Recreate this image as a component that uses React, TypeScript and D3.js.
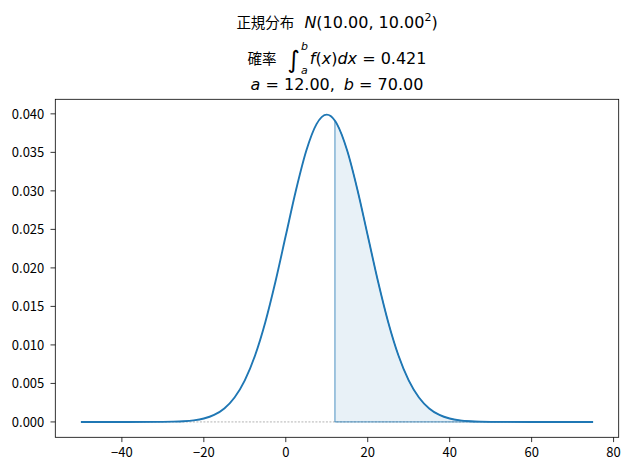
import * as d3 from 'd3';
import React from 'react';

// Normal distribution N(10, 10^2)
const CURVE_X = [-50, -40, -30, -27.5, -25, -22.5, -20, -17.5, -15, -12.5, -10, -7.5, -5, -2.5, 0, 2.5, 5, 7.5, 10, 12, 12.5, 15, 17.5, 20, 22.5, 25, 27.5, 30, 32.5, 35, 37.5, 40, 42.5, 45, 47.5, 50, 60, 70, 75];
const CURVE_Y = [0, 0.0000001, 0.0000134, 0.0000353, 0.0000873, 0.000203, 0.000443, 0.000909, 0.001753, 0.003174, 0.005399, 0.008628, 0.012952, 0.018265, 0.024197, 0.030114, 0.035207, 0.038667, 0.039894, 0.039104, 0.038667, 0.035207, 0.030114, 0.024197, 0.018265, 0.012952, 0.008628, 0.005399, 0.003174, 0.001753, 0.000909, 0.000443, 0.000203, 0.0000873, 0.0000353, 0.0000134, 0.0000001, 0, 0];

const RANGE_A = 12;
const RANGE_B = 70;

const X_TICKS = [-40, -20, 0, 20, 40, 60, 80];
const Y_TICKS = [0, 0.005, 0.01, 0.015, 0.02, 0.025, 0.03, 0.035, 0.04];

const W = 629;
const H = 470;
const BLUE = "#1f77b4";
const JP = "'Noto Sans CJK JP', sans-serif";
const MATH = "'DejaVu Sans', sans-serif";

type Pt = { x: number; y: number };

const App: React.FC = () => {
  const plot = { left: 55.3, right: 618.7, top: 99.3, bottom: 437.3 };

  const xScale = d3.scaleLinear().domain([-56.25, 81.25]).range([plot.left, plot.right]);
  const yScale = d3.scaleLinear().domain([-0.001995, 0.041889]).range([plot.bottom, plot.top]);

  const pts: Pt[] = CURVE_X.map((x, i) => ({ x, y: CURVE_Y[i] }));
  const shaded = pts.filter(p => p.x >= RANGE_A && p.x <= RANGE_B);

  const line = d3.line<Pt>()
    .x(p => xScale(p.x))
    .y(p => yScale(p.y))
    .curve(d3.curveMonotoneX);

  const area = d3.area<Pt>()
    .x(p => xScale(p.x))
    .y0(yScale(0))
    .y1(p => yScale(p.y))
    .curve(d3.curveMonotoneX);

  const cx = (plot.left + plot.right) / 2;

  return (
    <div style={{ position: "fixed", left: 0, top: 0 }}>
      <svg width={W} height={H} style={{ display: "block", background: "#fff" }}>
        {/* title */}
        <g fill="#000" fontFamily={MATH} fontSize={16}>
          <text x={cx} y={28} textAnchor="middle">
            <tspan fontFamily={JP} fontSize={14.5}>正規分布</tspan>
            <tspan fontStyle="italic" dx={10}>N</tspan>
            <tspan>(10.00, 10.00</tspan>
            <tspan fontSize={11} dy={-7}>2</tspan>
            <tspan dy={7}>)</tspan>
          </text>
          <text x={cx} y={63.5} textAnchor="middle">
            <tspan fontFamily={JP} fontSize={14.5}>確率</tspan>
            <tspan fontSize={24} dy={4} dx={11}>∫</tspan>
            <tspan fontSize={11} fontStyle="italic" dy={-18} dx={1}>b</tspan>
            <tspan fontSize={11} fontStyle="italic" dy={24} dx={-7}>a</tspan>
            <tspan fontStyle="italic" dy={-10} dx={2}>f</tspan>
            <tspan>(</tspan>
            <tspan fontStyle="italic">x</tspan>
            <tspan>)</tspan>
            <tspan fontStyle="italic">dx</tspan>
            <tspan> = 0.421</tspan>
          </text>
          <text x={cx} y={90} textAnchor="middle">
            <tspan fontStyle="italic">a</tspan>
            <tspan> = 12.00,</tspan>
            <tspan fontStyle="italic" dx={9}>b</tspan>
            <tspan> = 70.00</tspan>
          </text>
        </g>

        {/* zero guide */}
        <line
          x1={xScale(CURVE_X[0])}
          x2={xScale(CURVE_X[CURVE_X.length - 1])}
          y1={yScale(0)}
          y2={yScale(0)}
          stroke="#808080"
          strokeWidth={0.6}
          strokeDasharray="2,1.5"
        />

        {/* shaded probability */}
        <path
          d={area(shaded) ?? ""}
          fill={BLUE}
          fillOpacity={0.1}
          stroke={BLUE}
          strokeWidth={0.8}
        />

        {/* density curve */}
        <path d={line(pts) ?? ""} fill="none" stroke={BLUE} strokeWidth={1.9} />

        {/* frame */}
        <rect
          x={plot.left}
          y={plot.top}
          width={plot.right - plot.left}
          height={plot.bottom - plot.top}
          fill="none"
          stroke="#000"
          strokeWidth={0.8}
        />

        {/* x axis */}
        <g fontFamily={JP} fontSize={13} fill="#000">
          {X_TICKS.map(t => (
            <g key={t} transform={`translate(${xScale(t)},${plot.bottom})`}>
              <line y2={4.8} stroke="#000" strokeWidth={0.8} />
              <text y={20} textAnchor="middle">{t < 0 ? `\u2212${Math.abs(t)}` : `${t}`}</text>
            </g>
          ))}
        </g>

        {/* y axis */}
        <g fontFamily={JP} fontSize={13} fill="#000">
          {Y_TICKS.map(t => (
            <g key={t} transform={`translate(${plot.left},${yScale(t)})`}>
              <line x2={-4.8} stroke="#000" strokeWidth={0.8} />
              <text x={-11} dy="0.36em" textAnchor="end">{d3.format(".3f")(t)}</text>
            </g>
          ))}
        </g>
      </svg>
    </div>
  );
};

export default App;
